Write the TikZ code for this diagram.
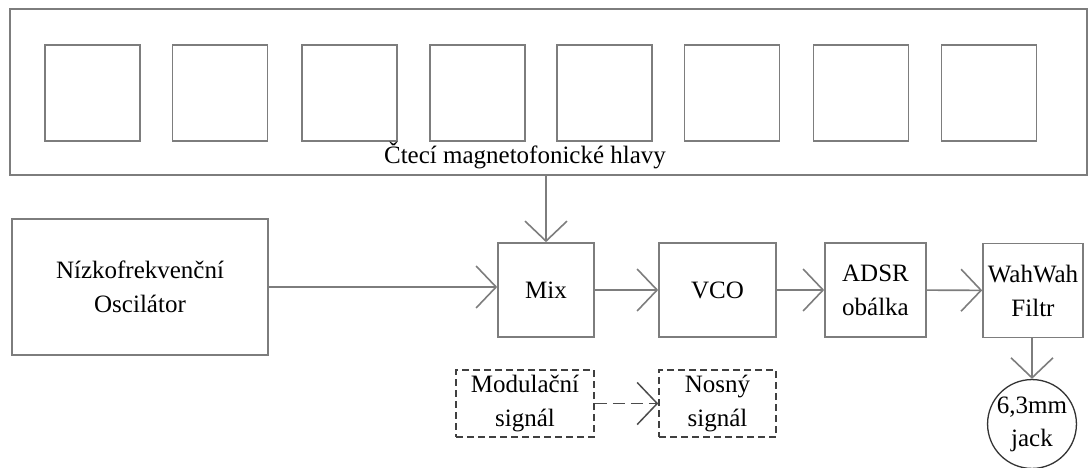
\documentclass[tikz,border=0pt]{standalone}
\usepackage{fontspec}
\setmainfont{Liberation Serif}
\usetikzlibrary{arrows.meta, positioning, calc}
\definecolor{LineGray}{RGB}{125,125,125}
\tikzset{
  >={Straight Barb[length=20pt,width=42pt]},  % otevrene sipky
  % bloky schematu
  blok/.style={draw=LineGray,line width=1.6pt,inner sep=0pt,align=center,
    font=\fontsize{25}{34}\selectfont},
  hlava/.style={blok,minimum width=95pt,minimum height=96pt},
  blok dash/.style={blok,draw=black!75,line width=1.5pt,dash pattern=on 7pt off 4pt},
  % spoje
  spoj/.style={->,draw=LineGray,line width=1.6pt},
  spoj dash/.style={spoj,draw=black!70,line width=1.5pt,dash pattern=on 12pt off 6pt}
}

\begin{document}
\begin{tikzpicture}[x=1pt,y=-1pt]
  \useasboundingbox (0,0) rectangle (1089,468);
  \node[blok,minimum width=1077pt,minimum height=166pt] (frame) at (548.5,92) {};
  \foreach \x [count=\i] in {92.5,220,349.5,477.5,604.5,732,861,989}
    \node[hlava] (hlava\i) at (\x,93) {};
  \node[font=\fontsize{25}{34}\selectfont,anchor=base] (cteni) at (525,164) {Čtecí magnetofonické hlavy};
  \node[blok,minimum width=256pt,minimum height=136pt] (nf) at (140,287) {Nízkofrekvenční\\Oscilátor};
  \node[blok,minimum width=96pt,minimum height=94pt] (mix) at (546,290) {Mix};
  \node[blok,minimum width=117pt,minimum height=94pt] (vco) at (717.5,290) {VCO};
  \node[blok,minimum width=101pt,minimum height=94pt] (adsr) at (875.5,290) {ADSR\\obálka};
  \node[blok,minimum width=100pt,minimum height=94pt] (wah) at (1033,290.5) {WahWah\\Filtr};
  \node[blok,draw=black!80,line width=1.3pt,circle,minimum size=82pt,font=\fontsize{25}{33}\selectfont] (jack) at (1032,424) {6,3mm\\jack};
  \node[blok dash,minimum width=138pt,minimum height=67pt] (mod) at (525,403.5) {Modulační\\signál};
  \node[blok dash,minimum width=117pt,minimum height=67pt] (nosny) at (717.5,403.5) {Nosný\\signál};

  \draw[spoj] (frame.south -| mix) -- (mix);
  \draw[spoj] (nf.east) -- (nf.east -| mix.west);
  \draw[spoj] (mix) -- (vco);
  \draw[spoj] (vco) -- (adsr);
  \draw[spoj] (adsr) -- (wah);
  \draw[spoj] (wah.south -| jack) -- (jack);
  \draw[spoj dash] (mod) -- (nosny);
\end{tikzpicture}
\end{document}
